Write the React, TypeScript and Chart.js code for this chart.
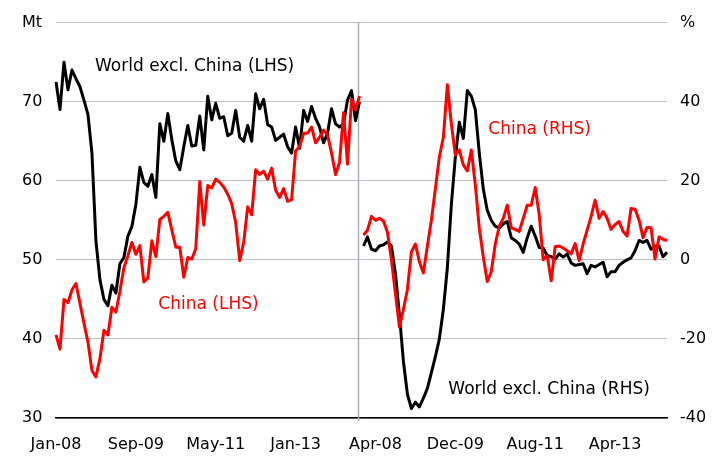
import React, { useEffect, useRef } from 'react';
import { Chart, registerables } from 'chart.js';

Chart.register(...registerables);

// ---- Categories (two panels, each Jan-08 .. May-14, monthly) ----
const MONTH_NAMES = ['Jan', 'Feb', 'Mar', 'Apr', 'May', 'Jun', 'Jul', 'Aug', 'Sep', 'Oct', 'Nov', 'Dec'];
const PANEL_POINTS = 77;
const START_YEAR = 8;
function monthLabels(n: number): string[] {
  const out: string[] = [];
  for (let k = 0; k < n; k++) {
    const y = START_YEAR + Math.floor(k / 12);
    out.push(MONTH_NAMES[k % 12] + '-' + (y < 10 ? '0' + y : String(y)));
  }
  return out;
}
const LEFT_CATEGORIES = monthLabels(PANEL_POINTS);
const RIGHT_CATEGORIES = monthLabels(PANEL_POINTS);
const CATEGORIES = [...LEFT_CATEGORIES, ...RIGHT_CATEGORIES];
const TICK_INTERVAL = 20;

// ---- Left panel (Mt) ----
const WORLD_EXCL_CHINA_LHS = [
  72.5, 69.0, 75.0, 71.5, 74.0, 72.9, 71.9, 70.2, 68.4, 63.5,
  52.4, 47.5, 45.0, 44.2, 46.8, 45.8, 49.5, 50.3, 53.0, 54.2,
  57.0, 61.7, 59.8, 59.3, 60.8, 57.9, 67.2, 65.0, 68.5, 65.2,
  62.5, 61.4, 64.3, 67.0, 64.4, 64.5, 68.2, 63.9, 70.7, 67.7,
  69.8, 67.9, 68.1, 65.7, 66.0, 68.9, 65.5, 65.0, 67.0, 65.0,
  71.0, 69.1, 70.3, 67.1, 66.8, 65.1, 65.5, 65.9, 64.3, 63.5,
  66.8, 64.1, 68.9, 67.5, 69.4, 67.9, 66.8, 64.8, 66.0, 69.1,
  67.2, 66.8, 67.2, 70.2, 71.4, 67.6, 70.0,
];
const CHINA_LHS = [
  40.5, 38.7, 45.0, 44.6, 46.2, 47.0, 44.5, 42.0, 39.6, 36.0,
  35.2, 37.5, 41.1, 40.5, 44.0, 43.4, 46.0, 49.0, 50.5, 52.2,
  50.7, 51.8, 47.2, 47.7, 52.4, 50.4, 55.1, 55.5, 56.0, 53.8,
  51.6, 51.6, 47.8, 50.3, 50.1, 51.4, 59.9, 54.4, 59.4, 59.1,
  60.2, 59.8, 59.2, 58.3, 57.1, 54.7, 49.9, 52.2, 56.7, 55.7,
  61.4, 60.8, 61.2, 60.2, 61.6, 58.8, 57.9, 59.0, 57.4, 57.6,
  63.8, 64.3, 66.0, 66.0, 66.8, 64.8, 65.5, 66.4, 65.8, 63.5,
  60.8, 62.3, 68.6, 62.1, 70.3, 69.0, 70.7,
];

// ---- Right panel (% y/y) ----
const WORLD_EXCL_CHINA_RHS = [
  3.5, 5.8, 2.7, 2.3, 3.5, 3.8, 4.5, 3.5, -3.5, -14.0,
  -25.7, -34.0, -37.6, -36.0, -37.2, -35.0, -32.5, -28.5, -24.5, -20.0,
  -12.5, -2.0, 14.0, 26.0, 34.8, 30.7, 42.8, 41.4, 38.0, 27.0,
  17.9, 12.5, 10.0, 8.5, 8.1, 9.1, 9.7, 5.6, 4.9, 4.0,
  1.9, 5.6, 8.5, 6.0, 3.1, 3.0, 1.1, 0.8, 0.2, 1.5,
  0.7, 1.5, -0.8, -1.4, -1.2, -1.0, -3.5, -1.4, -1.8, -1.2,
  -0.6, -4.3, -3.0, -3.0, -1.4, -0.6, 0.0, 0.5, 2.3, 4.9,
  4.4, 4.9, 2.7, 3.5, 3.5, 0.8, 1.9,
];
const CHINA_RHS = [
  6.3, 7.5, 11.0, 10.0, 10.5, 9.8, 7.0, 0.0, -8.5, -17.0,
  -12.5, -7.5, 2.0, 4.0, -0.5, -3.3, 3.5, 10.0, 18.0, 26.0,
  31.0, 44.3, 34.4, 26.5, 27.8, 24.0, 22.5, 27.8, 19.0, 8.0,
  0.7, -5.5, -3.0, 4.0, 8.5, 10.5, 13.8, 8.1, 7.7, 7.2,
  10.5, 13.8, 13.8, 18.3, 11.4, 0.0, 1.1, -5.3, 3.3, 3.5,
  3.0, 2.3, 1.5, 4.1, -0.2, 4.0, 7.5, 11.0, 15.1, 10.5,
  12.2, 10.5, 7.7, 8.9, 9.7, 7.2, 6.0, 13.0, 12.8, 10.1,
  5.6, 8.2, 8.1, 0.2, 5.8, 5.2, 4.9,
];

// ---- Axes ----
const LEFT_MIN = 30;
const LEFT_MAX = 80;
const LEFT_STEP = 10;
const LEFT_UNIT = 'Mt';
const RIGHT_MIN = -40;
const RIGHT_MAX = 60;
const RIGHT_STEP = 20;
const RIGHT_UNIT = '%';

// ---- Series labels placed in data coordinates ----
const ANNOTATION_TEXTS = ['World excl. China (LHS)', 'China (LHS)', 'China (RHS)', 'World excl. China (RHS)'];
const ANNOTATION_X = [9.77, 25.62, 108.26, 98.25];
const ANNOTATION_Y = [73.9, 43.8, 31.9, -33.9];
const ANNOTATION_AXIS = ['yL', 'yL', 'yR', 'yR'];
const ANNOTATION_COLORS = ['#000000', '#ff0000', '#ff0000', '#000000'];

const SEPARATOR_POS = 75.6;

const FONT_FAMILY = '"DejaVu Sans", sans-serif';
const RED = '#ff0000';
const BLACK = '#000000';
const GRID = '#bcc0c4';

const nulls = (n: number) => new Array(n).fill(null);

const panelPlugin = {
  id: 'panelPlugin',
  beforeDatasetsDraw(chart: any) {
    const { ctx, chartArea, scales } = chart;
    const x = Math.round(scales.x.getPixelForValue(SEPARATOR_POS)) + 0.5;
    ctx.save();
    ctx.strokeStyle = '#a9b0b8';
    ctx.lineWidth = 1.5;
    ctx.beginPath();
    ctx.moveTo(x, chartArea.top);
    ctx.lineTo(x, chartArea.bottom + 3);
    ctx.stroke();
    ctx.restore();
  },
  afterDatasetsDraw(chart: any) {
    const { ctx, scales } = chart;
    ctx.save();
    ctx.font = '17px ' + FONT_FAMILY;
    ctx.textAlign = 'left';
    ctx.textBaseline = 'alphabetic';
    ANNOTATION_TEXTS.forEach((t, i) => {
      const x = scales.x.getPixelForValue(ANNOTATION_X[i]);
      const y = scales[ANNOTATION_AXIS[i]].getPixelForValue(ANNOTATION_Y[i]);
      ctx.fillStyle = ANNOTATION_COLORS[i];
      ctx.fillText(t, x, y);
    });
    ctx.restore();
  },
};

export default function App() {
  const ref = useRef<HTMLCanvasElement>(null);
  useEffect(() => {
    document.body.style.margin = '0';
    const canvas = ref.current;
    if (!canvas) return;
    const tickFont = { family: FONT_FAMILY, size: 16 };
    const chart = new Chart(canvas, {
      type: 'line',
      data: {
        labels: CATEGORIES,
        datasets: [
          {
            label: 'China (LHS)',
            data: [...CHINA_LHS, ...nulls(RIGHT_CATEGORIES.length)],
            borderColor: RED,
            borderWidth: 3,
            pointRadius: 0,
            yAxisID: 'yL',
            spanGaps: false,
          },
          {
            label: 'China (RHS)',
            data: [...nulls(LEFT_CATEGORIES.length), ...CHINA_RHS],
            borderColor: RED,
            borderWidth: 3,
            pointRadius: 0,
            yAxisID: 'yR',
            spanGaps: false,
          },
          {
            label: 'World excl. China (LHS)',
            data: [...WORLD_EXCL_CHINA_LHS, ...nulls(RIGHT_CATEGORIES.length)],
            borderColor: BLACK,
            borderWidth: 3,
            pointRadius: 0,
            yAxisID: 'yL',
            spanGaps: false,
          },
          {
            label: 'World excl. China (RHS)',
            data: [...nulls(LEFT_CATEGORIES.length), ...WORLD_EXCL_CHINA_RHS],
            borderColor: BLACK,
            borderWidth: 3,
            pointRadius: 0,
            yAxisID: 'yR',
            spanGaps: false,
          },
        ],
      },
      options: {
        animation: false,
        responsive: false,
        maintainAspectRatio: false,
        layout: { padding: { left: 22, top: 13, right: 0, bottom: 0 } },
        plugins: { legend: { display: false }, tooltip: { enabled: false } },
        elements: { line: { tension: 0, borderJoinStyle: 'round' } },
        scales: {
          x: {
            type: 'category',
            offset: false,
            grid: { display: false, drawTicks: false },
            border: { display: true, color: '#000000', width: 1.5 },
            ticks: {
              autoSkip: false,
              maxRotation: 0,
              minRotation: 0,
              padding: 17,
              color: '#000000',
              font: tickFont,
              callback: (_v: any, i: number) => (i % TICK_INTERVAL === 0 ? CATEGORIES[i] : ''),
            },
            afterFit: (s: any) => {
              s.height = 38;
            },
          },
          yL: {
            type: 'linear',
            position: 'left',
            min: LEFT_MIN,
            max: LEFT_MAX,
            grid: { color: GRID, lineWidth: 1, drawTicks: false },
            border: { display: false },
            ticks: {
              stepSize: LEFT_STEP,
              crossAlign: 'far',
              color: '#000000',
              font: tickFont,
              callback: (v: any) => (v === LEFT_MAX ? LEFT_UNIT : String(v)),
            },
            afterFit: (s: any) => {
              s.width = 34;
            },
          },
          yR: {
            type: 'linear',
            position: 'right',
            min: RIGHT_MIN,
            max: RIGHT_MAX,
            grid: { display: false, drawTicks: false },
            border: { display: false },
            ticks: {
              stepSize: RIGHT_STEP,
              padding: 13,
              color: '#000000',
              font: tickFont,
              callback: (v: any) => (v === RIGHT_MAX ? RIGHT_UNIT : String(v)),
            },
            afterFit: (s: any) => {
              s.width = 50;
            },
          },
        },
      },
      plugins: [panelPlugin],
    } as any);
    return () => chart.destroy();
  }, []);
  return (
    <div style={{ width: 717, height: 456 }}>
      <canvas ref={ref} width={717} height={456} style={{ display: 'block' }} />
    </div>
  );
}
